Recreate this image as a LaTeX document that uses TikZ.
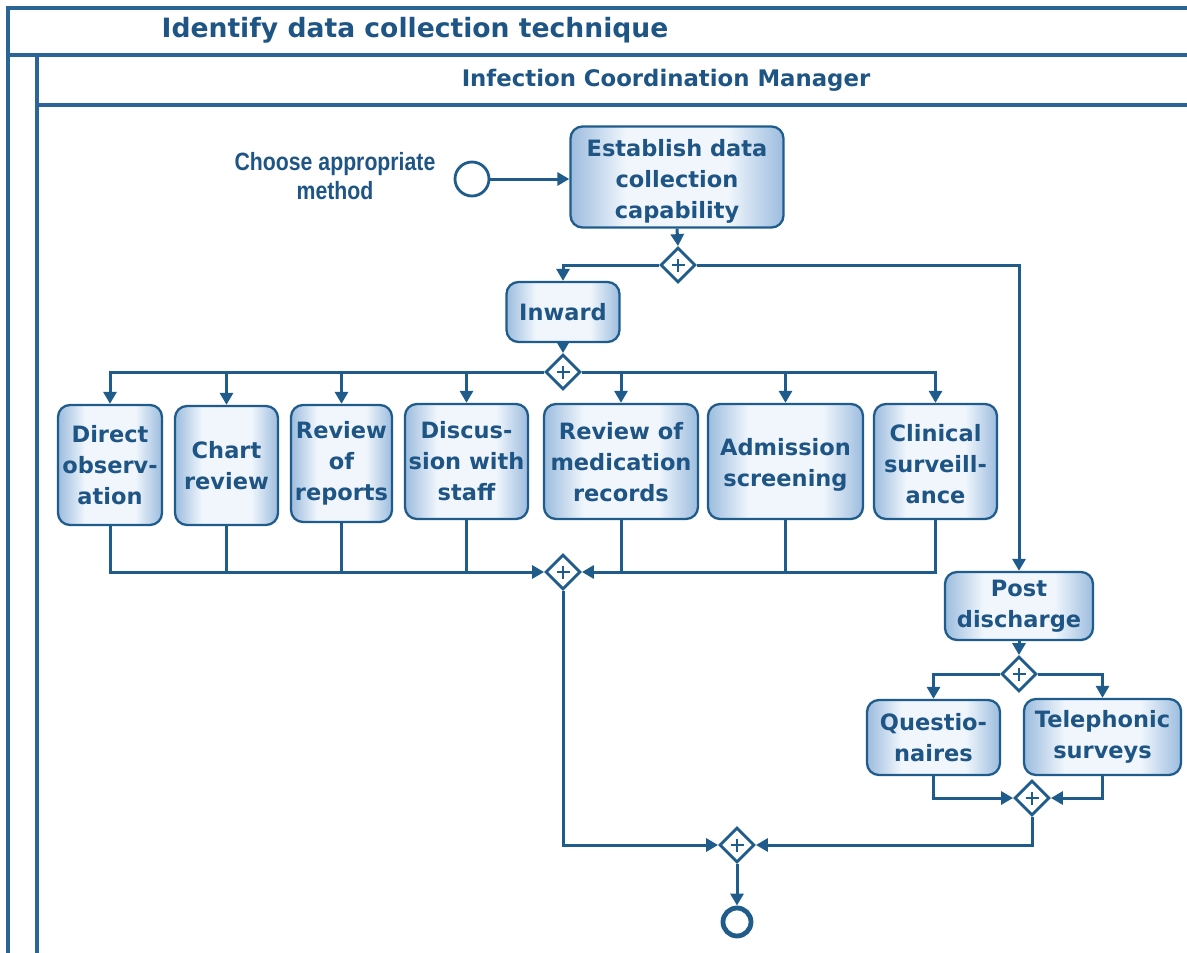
\documentclass[tikz,border=0pt]{standalone}
\usepackage{fontspec}
\setmainfont{DejaVu Sans}
\newfontfamily\narrowfont[FakeStretch=0.85]{Liberation Sans}
\usetikzlibrary{arrows.meta,shapes.geometric}
\definecolor{lineblue}{HTML}{1F5C8C}
\definecolor{frameblue}{HTML}{2B6597}
\definecolor{textblue}{HTML}{1E5585}
\definecolor{boxedge}{HTML}{9CBCDE}
\definecolor{boxmid}{HTML}{F0F6FC}
% task fill: darker blue at both sides, pale in the middle
\pgfdeclarehorizontalshading{taskshade}{100bp}{color(0bp)=(boxedge); color(25bp)=(boxedge);
  color(38bp)=(boxmid); color(62bp)=(boxmid); color(75bp)=(boxedge); color(100bp)=(boxedge)}
% text block moved down inside its box
\newcommand{\lowered}[2]{\raisebox{-#1}[0pt][0pt]{\begin{tabular}{@{}c@{}}#2\end{tabular}}}
\tikzset{
  task/.style={draw=lineblue, line width=2.3pt, rounded corners=12pt,
    shading=taskshade, text=textblue, font=\fontsize{22.5}{31}\selectfont\bfseries,
    align=center, inner sep=0pt},
  gate/.style={diamond, draw=lineblue, line width=2.8pt, fill=white,
    minimum size=35pt, inner sep=0pt,
    path picture={
      \draw[lineblue, line width=2.2pt]
        ([xshift=-6.5pt]path picture bounding box.center) -- ++(13pt,0)
        ([yshift=-6.5pt]path picture bounding box.center) -- ++(0,13pt);}},
  flow/.style={draw=lineblue, line width=3pt, -{Triangle[length=12pt,width=13pt]}},
  link/.style={draw=lineblue, line width=3pt},
  frame/.style={draw=frameblue, line width=3.2pt},
}
\begin{document}
\begin{tikzpicture}[x=1pt,y=-1pt]
\useasboundingbox (0,0) rectangle (1187,953);

% pool and lane frame
\draw[frame] (1190,8) -- (8,8) -- (8,956);
\draw[frame] (8,55) -- (1190,55);
\draw[frame] (37,55) -- (37,956);
\draw[frame] (37,105) -- (1190,105);
\node[text=textblue, font=\fontsize{26.6}{30}\selectfont\bfseries] (pooltitle) at (415,30) {Identify data collection technique};
\node[text=textblue, font=\fontsize{22.8}{26}\selectfont\bfseries] (lanetitle) at (666,80) {Infection Coordination Manager};

% start event and its label
\node[circle, draw=lineblue, line width=2.8pt, minimum size=34pt, inner sep=0pt] (start) at (472,179) {};
\node[text=textblue, font=\narrowfont\fontsize{25}{29}\selectfont\bfseries, align=center] (startlabel) at (335,176) {Choose appropriate\\method};

% tasks
\node[task, minimum width=213pt, minimum height=101pt] (est) at (677,177) {\lowered{9pt}{Establish data\\collection\\capability}};
\node[task, minimum width=113pt, minimum height=60pt] (inward) at (563,312) {Inward};
\node[task, minimum width=104pt, minimum height=120pt] (dobs) at (110,465) {Direct\\observ-\\ation};
\node[task, minimum width=103pt, minimum height=119pt] (chart) at (226.5,465.5) {Chart\\review};
\node[task, minimum width=101pt, minimum height=117pt] (reports) at (341.5,463.5) {Review\\of\\reports};
\node[task, minimum width=123pt, minimum height=115pt] (disc) at (466.5,461.5) {Discus-\\sion with\\staff};
\node[task, minimum width=154pt, minimum height=115pt] (med) at (621,461.5) {\lowered{8pt}{Review of\\medication\\records}};
\node[task, minimum width=155pt, minimum height=115pt] (adm) at (785.5,461.5) {\lowered{8pt}{Admission\\screening}};
\node[task, minimum width=123pt, minimum height=115pt] (clin) at (935.5,461.5) {\lowered{10pt}{Clinical\\surveill-\\ance}};
\node[task, minimum width=148pt, minimum height=68pt] (post) at (1019,606) {Post\\discharge};
\node[task, minimum width=133pt, minimum height=75pt] (quest) at (933.5,737.5) {Questio-\\naires};
\node[task, minimum width=157pt, minimum height=76pt] (tele) at (1102.5,737) {Telephonic\\surveys};

% gateways
\node[gate] (g1) at (678,265) {};
\node[gate] (g2) at (563,372) {};
\node[gate] (g3) at (563,572) {};
\node[gate] (g4) at (1019,674) {};
\node[gate] (g5) at (737,845) {};
\node[gate] (g6) at (1032,798) {};

% end event
\node[circle, draw=lineblue, line width=4.8pt, minimum size=28pt, inner sep=0pt] (finish) at (737,922) {};

% sequence flows
\draw[flow] (start) -- (start -| est.west);
\draw[flow] (est.south) -- (g1.north);
\draw[flow] (g1.west) -| (inward.north);
\draw[flow] (g1.east) -| (post.north);
\draw[flow] (inward) -- (g2);
\foreach \t in {dobs,chart,reports,disc} \draw[flow] (g2.west) -| (\t.north);
\foreach \t in {med,adm,clin} \draw[flow] (g2.east) -| (\t.north);
\draw[flow] (dobs.south) |- (g3.west);
\foreach \t in {chart,reports,disc} \draw[link] (\t.south) -- (\t.south |- g3.west);
\draw[flow] (clin.south) |- (g3.east);
\foreach \t in {med,adm} \draw[link] (\t.south) -- (\t.south |- g3.east);
\draw[flow] (g3.south) |- (g5.west);
\draw[flow] (post) -- (g4);
\draw[flow] (g4.west) -| (quest.north);
\draw[flow] (g4.east) -| (tele.north);
\draw[flow] (quest.south) |- (g6.west);
\draw[flow] (tele.south) |- (g6.east);
\draw[flow] (g6.south) |- (g5.east);
\draw[flow] (g5) -- (finish);
\end{tikzpicture}
\end{document}
